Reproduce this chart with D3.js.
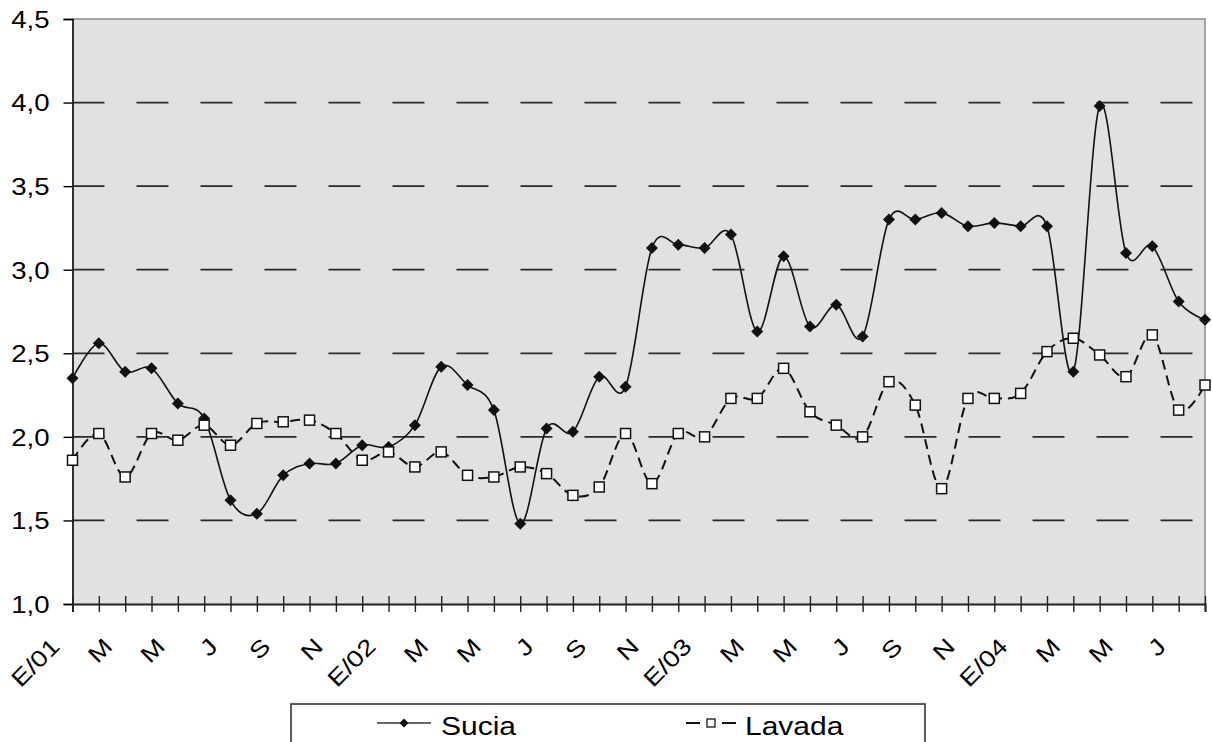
<!DOCTYPE html>
<html>
<head>
<meta charset="utf-8">
<script src="https://cdn.jsdelivr.net/npm/d3@7"></script>
<style>
  html, body { margin: 0; padding: 0; background: #ffffff; }
  svg { display: block; }
  text { font-family: "Liberation Sans", Arial, sans-serif; fill: #000; }
</style>
</head>
<body>
<svg id="chart" width="1212" height="742"></svg>
<script>
// Monthly categories, Jan 2001 – Aug 2004 (labels shown every two months)
const months = [
  "E/01","F","M","A","M","J","J","A","S","O","N","D",
  "E/02","F","M","A","M","J","J","A","S","O","N","D",
  "E/03","F","M","A","M","J","J","A","S","O","N","D",
  "E/04","F","M","A","M","J","J","A"
];

const sucia = [
  2.35, 2.56, 2.39, 2.41, 2.20, 2.11, 1.62, 1.54, 1.77, 1.84, 1.84, 1.95,
  1.94, 2.07, 2.42, 2.31, 2.16, 1.48, 2.05, 2.03, 2.36, 2.30, 3.13, 3.15,
  3.13, 3.21, 2.63, 3.08, 2.66, 2.79, 2.60, 3.30, 3.30, 3.34, 3.26, 3.28,
  3.26, 3.26, 2.39, 3.98, 3.10, 3.14, 2.81, 2.70
];

const lavada = [
  1.86, 2.02, 1.76, 2.02, 1.98, 2.07, 1.95, 2.08, 2.09, 2.10, 2.02, 1.86,
  1.91, 1.82, 1.91, 1.77, 1.76, 1.82, 1.78, 1.65, 1.70, 2.02, 1.72, 2.02,
  2.00, 2.23, 2.23, 2.41, 2.15, 2.07, 2.00, 2.33, 2.19, 1.69, 2.23, 2.23,
  2.26, 2.51, 2.59, 2.49, 2.36, 2.61, 2.16, 2.31
];

const yTicks = [1.0, 1.5, 2.0, 2.5, 3.0, 3.5, 4.0, 4.5];
const gridValues = [1.5, 2.0, 2.5, 3.0, 3.5, 4.0];
const seriesNames = ["Sucia", "Lavada"];

// Layout of the plot area
const plotLeft = 72.5, plotRight = 1205, plotTop = 19, plotBottom = 604;
const stretch = 1.2;   // horizontal widening of the lettering

const svg = d3.select("#chart");

const x = d3.scalePoint()
  .domain(d3.range(months.length))
  .range([plotLeft, plotRight]);

const y = d3.scaleLinear()
  .domain([1.0, 4.5])
  .range([plotBottom, plotTop]);

const fmt = d => d3.format(".1f")(d).replace(".", ",");

// Plot area background and frame (top/right in grey)
svg.append("rect")
  .attr("x", plotLeft).attr("y", plotTop)
  .attr("width", plotRight - plotLeft).attr("height", plotBottom - plotTop)
  .attr("fill", "#e1e1e1");

svg.append("path")
  .attr("d", `M${plotLeft},${plotTop}H${plotRight}V${plotBottom}`)
  .attr("fill", "none")
  .attr("stroke", "#8a8a8a")
  .attr("stroke-width", 1.5);

// Dashed horizontal gridlines
svg.append("g").selectAll("line")
  .data(gridValues)
  .join("line")
  .attr("x1", plotLeft).attr("x2", plotRight)
  .attr("y1", d => y(d)).attr("y2", d => y(d))
  .attr("stroke", "#2a2a2a")
  .attr("stroke-width", 1.8)
  .attr("stroke-dasharray", "32,32");

// Y axis
const yAxis = svg.append("g")
  .attr("transform", `translate(${plotLeft},0)`)
  .call(d3.axisLeft(y).tickValues(yTicks).tickSize(9).tickPadding(0).tickFormat(fmt));
yAxis.select(".domain").attr("stroke", "#000").attr("stroke-width", 1.6);
yAxis.selectAll(".tick line").attr("stroke", "#000").attr("stroke-width", 1.4);
yAxis.selectAll(".tick text").remove();
yAxis.selectAll(".tick").append("text")
  .attr("transform", `translate(-23,0) scale(${stretch},1)`)
  .attr("text-anchor", "end")
  .attr("dy", "0.36em")
  .attr("font-size", 23)
  .attr("fill", "#000")
  .text(d => fmt(d));

// X axis: ticks cross the axis line
const xAxis = svg.append("g")
  .attr("transform", `translate(0,${plotBottom})`)
  .call(d3.axisBottom(x).tickSizeOuter(0).tickSize(8).tickFormat(""));
xAxis.select(".domain").attr("stroke", "#222").attr("stroke-width", 2);
xAxis.selectAll(".tick line")
  .attr("y1", -8).attr("y2", 8)
  .attr("stroke", "#222").attr("stroke-width", 1.4);
xAxis.selectAll(".tick text").remove();
xAxis.selectAll(".tick")
  .filter(d => d % 2 === 0)
  .append("text")
  .attr("transform", `translate(-12,44) rotate(-45) scale(${stretch},1)`)
  .attr("text-anchor", "end")
  .attr("font-size", 23)
  .attr("fill", "#000")
  .text(d => months[d]);

// Smoothed series lines
const line = d3.line()
  .x((d, i) => x(i))
  .y(d => y(d))
  .curve(d3.curveCardinal.tension(0));

svg.append("path")
  .datum(sucia)
  .attr("d", line)
  .attr("fill", "none")
  .attr("stroke", "#111")
  .attr("stroke-width", 1.6);

const diamond = r => `M0,${-r}L${r},0L0,${r}L${-r},0Z`;

svg.append("g").selectAll("path")
  .data(sucia)
  .join("path")
  .attr("transform", (d, i) => `translate(${x(i)},${y(d)})`)
  .attr("d", diamond(6))
  .attr("fill", "#111");

svg.append("path")
  .datum(lavada)
  .attr("d", line)
  .attr("fill", "none")
  .attr("stroke", "#111")
  .attr("stroke-width", 2)
  .attr("stroke-dasharray", "10,6");

svg.append("g").selectAll("rect")
  .data(lavada)
  .join("rect")
  .attr("x", (d, i) => x(i) - 5)
  .attr("y", d => y(d) - 5)
  .attr("width", 10).attr("height", 10)
  .attr("fill", "#fff")
  .attr("stroke", "#111")
  .attr("stroke-width", 1.5);

// Legend
const legend = svg.append("g");
legend.append("rect")
  .attr("x", 291).attr("y", 704)
  .attr("width", 634).attr("height", 60)
  .attr("fill", "#fff")
  .attr("stroke", "#333")
  .attr("stroke-width", 1.6);

const legendItems = [
  { name: seriesNames[0], x0: 377, x1: 431, tx: 441 },
  { name: seriesNames[1], x0: 686, x1: 736, tx: 745 }
];
const ly = 723;

legend.append("line")
  .attr("x1", legendItems[0].x0).attr("x2", legendItems[0].x1)
  .attr("y1", ly).attr("y2", ly)
  .attr("stroke", "#333").attr("stroke-width", 1.6);
legend.append("path")
  .attr("transform", `translate(${(legendItems[0].x0 + legendItems[0].x1) / 2},${ly})`)
  .attr("d", diamond(4.5))
  .attr("fill", "#111");

legend.append("line")
  .attr("x1", legendItems[1].x0).attr("x2", legendItems[1].x1)
  .attr("y1", ly).attr("y2", ly)
  .attr("stroke", "#111").attr("stroke-width", 2)
  .attr("stroke-dasharray", "14,22");
legend.append("rect")
  .attr("x", (legendItems[1].x0 + legendItems[1].x1) / 2 - 4)
  .attr("y", ly - 4)
  .attr("width", 8).attr("height", 8)
  .attr("fill", "#fff").attr("stroke", "#111").attr("stroke-width", 1.3);

legend.selectAll("text.lbl")
  .data(legendItems)
  .join("text")
  .attr("class", "lbl")
  .attr("transform", d => `translate(${d.tx},735) scale(${stretch},1)`)
  .attr("font-size", 25)
  .text(d => d.name);
</script>
</body>
</html>
